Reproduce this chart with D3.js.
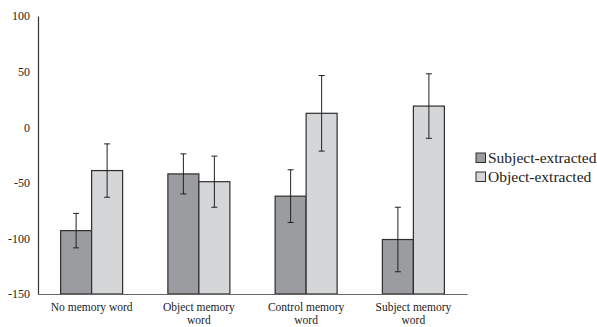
<!DOCTYPE html>
<html>
<head>
<meta charset="utf-8">
<script src="https://cdn.jsdelivr.net/npm/d3@7"></script>
<style>
  body { margin: 0; background: #fff; }
  text { font-family: "Liberation Serif", "DejaVu Serif", serif; fill: #222; }
</style>
</head>
<body>
<div id="chart"></div>
<script>
const WIDTH = 597;
const HEIGHT = 327;

const categories = [["No memory word"], ["Object memory", "word"], ["Control memory", "word"], ["Subject memory", "word"]];
const series = ["Subject-extracted", "Object-extracted"];
const subjectValues = [-93, -42, -62, -101];
const subjectErrors = [15.5, 18, 23.7, 29];
const objectValues = [-39, -49, 12.5, 19];
const objectErrors = [24, 23, 34, 29];
const yTicks = [100, 50, 0, -50, -100, -150];
const colors = ["#9b9c9f", "#d5d6d8"];

const MARGIN = { TOP: 16, BOTTOM: 33, LEFT: 38, RIGHT: 130 };

const SVG = d3.select('#chart')
    .append('svg')
    .attr('width', WIDTH)
    .attr('height', HEIGHT);

const y = d3.scaleLinear()
    .domain([-150, 100])
    .range([HEIGHT - MARGIN.BOTTOM, MARGIN.TOP]);

const x = d3.scaleBand()
    .domain(d3.range(categories.length))
    .range([MARGIN.LEFT, WIDTH - MARGIN.RIGHT]);

const inner = d3.scaleBand()
    .domain(series)
    .range([0, 62]);

const data = [];
categories.forEach((c, i) => {
    data.push({ i, s: series[0], v: subjectValues[i], e: subjectErrors[i] });
    data.push({ i, s: series[1], v: objectValues[i], e: objectErrors[i] });
});

const barX = d => x(d.i) + (x.bandwidth() - 62) / 2 + inner(d.s);

// bars
SVG.selectAll(".bar")
    .data(data)
    .enter()
    .append("rect")
    .attr("class", "bar")
    .attr("x", barX)
    .attr("y", d => y(d.v))
    .attr("width", inner.bandwidth())
    .attr("height", d => y(-150) - y(d.v))
    .attr("fill", d => colors[series.indexOf(d.s)])
    .attr("stroke", "#2e2e2e")
    .attr("stroke-width", 1.2);

// error bars
const err = SVG.selectAll(".err")
    .data(data)
    .enter()
    .append("g")
    .attr("class", "err")
    .attr("stroke", "#222")
    .attr("stroke-width", 1);
err.append("line")
    .attr("x1", d => barX(d) + inner.bandwidth() / 2)
    .attr("x2", d => barX(d) + inner.bandwidth() / 2)
    .attr("y1", d => y(d.v + d.e))
    .attr("y2", d => y(d.v - d.e));
[1, -1].forEach(sign => {
    err.append("line")
        .attr("x1", d => barX(d) + inner.bandwidth() / 2 - 3)
        .attr("x2", d => barX(d) + inner.bandwidth() / 2 + 3)
        .attr("y1", d => y(d.v + sign * d.e))
        .attr("y2", d => y(d.v + sign * d.e));
});

// y axis
const yAxis = SVG.append("g")
    .attr("transform", `translate(${MARGIN.LEFT},0)`)
    .call(d3.axisLeft(y).tickValues(yTicks).tickSize(0).tickPadding(8).tickFormat(d => String(d)));
yAxis.select(".domain").attr("stroke", "#333").attr("stroke-width", 1.2);
yAxis.selectAll("text")
    .style("font-family", '"Liberation Serif", serif')
    .style("font-size", "12px")
    .attr("fill", "#222");

// x axis
const xAxis = SVG.append("g")
    .attr("transform", `translate(0,${y(-150)})`)
    .call(d3.axisBottom(x).tickSize(0).tickFormat(""));
xAxis.select(".domain").attr("stroke", "#666").attr("stroke-width", 1);

const labels = SVG.selectAll(".cat")
    .data(categories)
    .enter()
    .append("text")
    .attr("class", "cat")
    .attr("text-anchor", "middle")
    .style("font-size", "11.5px")
    .attr("transform", (d, i) => `translate(${x(i) + x.bandwidth() / 2},${y(-150) + 17})`);
labels.selectAll("tspan")
    .data(d => d)
    .enter()
    .append("tspan")
    .attr("x", 0)
    .attr("dy", (d, j) => j === 0 ? 0 : 13)
    .text(d => d);

// legend
const legend = SVG.selectAll(".legend")
    .data(series)
    .enter()
    .append("g")
    .attr("class", "legend")
    .attr("transform", (d, i) => `translate(476,${153 + i * 19})`);
legend.append("rect")
    .attr("width", 9.5)
    .attr("height", 9.5)
    .attr("fill", (d, i) => colors[i])
    .attr("stroke", "#2e2e2e")
    .attr("stroke-width", 1);
legend.append("text")
    .attr("x", 12)
    .attr("y", 10)
    .style("font-size", "15.5px")
    .text(d => d);
</script>
</body>
</html>
